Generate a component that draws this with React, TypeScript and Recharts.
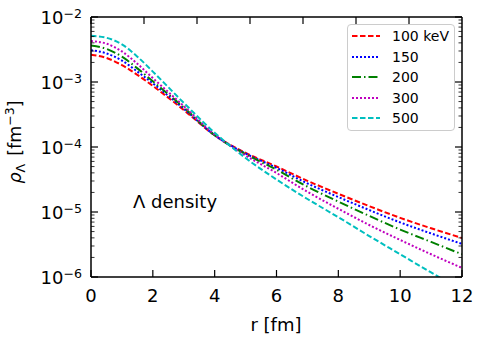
import { LineChart, Line, XAxis, YAxis, Legend } from "recharts";

// radius r [fm]
const R = [0, 0.5, 1, 1.5, 2, 3, 4, 5, 6, 7, 8, 9, 10, 11, 12];
// log10 of Lambda density [fm^-3] for each temperature
const logRho100 = [-2.58, -2.63, -2.74, -2.89, -3.06, -3.43, -3.82, -4.09, -4.30, -4.52, -4.72, -4.91, -5.09, -5.25, -5.40];
const logRho150 = [-2.51, -2.56, -2.67, -2.84, -3.02, -3.41, -3.82, -4.10, -4.32, -4.56, -4.77, -4.97, -5.16, -5.33, -5.49];
const logRho200 = [-2.44, -2.49, -2.61, -2.79, -2.99, -3.39, -3.82, -4.11, -4.35, -4.61, -4.84, -5.06, -5.27, -5.46, -5.65];
const logRho300 = [-2.37, -2.41, -2.53, -2.72, -2.94, -3.37, -3.81, -4.13, -4.40, -4.69, -4.95, -5.20, -5.43, -5.65, -5.86];
const logRho500 = [-2.29, -2.32, -2.42, -2.61, -2.84, -3.32, -3.78, -4.17, -4.50, -4.80, -5.08, -5.37, -5.65, -5.93, -6.20];

const xTicks = [0, 2, 4, 6, 8, 10, 12];
const yDecades = [-6, -5, -4, -3, -2];

const series = [
  { key: "t100", name: "100 keV", vals: logRho100, color: "#ff0000", dash: "5.5 2.5" },
  { key: "t150", name: "150", vals: logRho150, color: "#0000ff", dash: "2 2" },
  { key: "t200", name: "200", vals: logRho200, color: "#008000", dash: "9 3 1.5 3" },
  { key: "t300", name: "300", vals: logRho300, color: "#bf00bf", dash: "2 2" },
  { key: "t500", name: "500", vals: logRho500, color: "#00bfbf", dash: "5.5 2.5" },
];

const data = R.map((r, i) => {
  const row: Record<string, number> = { r };
  series.forEach((s) => (row[s.key] = Math.pow(10, s.vals[i])));
  return row;
});

const yMajor = yDecades.map((d) => Math.pow(10, d));
const yTicks: number[] = [];
yDecades.forEach((d, i) => {
  yTicks.push(Math.pow(10, d));
  if (i < yDecades.length - 1) for (let m = 2; m <= 9; m++) yTicks.push(m * Math.pow(10, d));
});
const isMajor = (v: number) => yMajor.some((m) => Math.abs(m - v) / m < 1e-6);

const FONT = "DejaVu Sans, sans-serif";
const axisLine = { stroke: "#000", strokeWidth: 1.5 };

const BottomTick = (p: any) => (
  <g>
    <line x1={p.x} x2={p.x} y1={p.y} y2={p.y - 7} stroke="#000" strokeWidth={1.2} />
    <text x={p.x} y={p.y + 24.5} textAnchor="middle" fontSize={18} fontFamily={FONT} fill="#000">
      {p.payload.value}
    </text>
  </g>
);

const TopTick = (p: any) => (
  <line x1={p.x} x2={p.x} y1={p.y} y2={p.y + 7} stroke="#000" strokeWidth={1.2} />
);

const LeftTick = (p: any) => {
  const v = p.payload.value;
  const major = isMajor(v);
  return (
    <g>
      <line x1={p.x} x2={p.x + (major ? 7 : 3.5)} y1={p.y} y2={p.y} stroke="#000" strokeWidth={major ? 1.2 : 0.8} />
      {major && (
        <text x={p.x - 9} y={p.y + 6.5} textAnchor="end" fontSize={18} fontFamily={FONT} fill="#000">
          <tspan>10</tspan>
          <tspan fontSize={12.6} dy={-6}>{"\u2212" + Math.round(-Math.log10(v))}</tspan>
        </text>
      )}
    </g>
  );
};

const RightTick = (p: any) => {
  const major = isMajor(p.payload.value);
  return (
    <line x1={p.x} x2={p.x - (major ? 7 : 3.5)} y1={p.y} y2={p.y} stroke="#000" strokeWidth={major ? 1.2 : 0.8} />
  );
};

const renderLegend = () => (
  <div
    style={{
      border: "1px solid #cccccc",
      borderRadius: 4,
      background: "#fff",
      boxSizing: "border-box",
      width: 108,
      height: 107,
      paddingTop: 1,
      fontFamily: FONT,
      fontSize: 14,
    }}
  >
    {series.map((s) => (
      <div key={s.key} style={{ display: "flex", alignItems: "center", height: 20.5 }}>
        <svg width={28} height={4} style={{ marginLeft: 4 }}>
          <line x1={0} x2={28} y1={2} y2={2} stroke={s.color} strokeWidth={2} strokeDasharray={s.dash} />
        </svg>
        <span style={{ marginLeft: 12 }}>{s.name}</span>
      </div>
    ))}
  </div>
);

export default function App() {
  return (
    <div style={{ position: "absolute", left: 0, top: 0, width: 485, height: 342, background: "#fff" }}>
      <LineChart width={485} height={342} data={data} margin={{ top: 16, right: 22, bottom: 64, left: 90 }}>
        <XAxis
          xAxisId="b"
          dataKey="r"
          type="number"
          domain={[0, 12]}
          allowDataOverflow
          ticks={xTicks}
          interval={0}
          height={1}
          tickSize={0}
          tickMargin={0}
          tickLine={false}
          axisLine={axisLine}
          tick={BottomTick}
        />
        <XAxis
          xAxisId="t"
          orientation="top"
          type="number"
          domain={[0, 12]}
          allowDataOverflow
          ticks={xTicks}
          interval={0}
          height={1}
          tickSize={0}
          tickMargin={0}
          tickLine={false}
          axisLine={axisLine}
          tick={TopTick}
        />
        <YAxis
          yAxisId="l"
          scale="log"
          type="number"
          domain={[1e-6, 1e-2]}
          allowDataOverflow
          ticks={yTicks}
          interval={0}
          width={1}
          tickSize={0}
          tickMargin={0}
          tickLine={false}
          axisLine={axisLine}
          tick={LeftTick}
        />
        <YAxis
          yAxisId="r"
          orientation="right"
          scale="log"
          type="number"
          domain={[1e-6, 1e-2]}
          allowDataOverflow
          ticks={yTicks}
          interval={0}
          width={1}
          tickSize={0}
          tickMargin={0}
          tickLine={false}
          axisLine={axisLine}
          tick={RightTick}
        />
        {series.map((s) => (
          <Line
            key={s.key}
            xAxisId="b"
            yAxisId="l"
            dataKey={s.key}
            name={s.name}
            type="monotone"
            stroke={s.color}
            strokeWidth={2}
            strokeDasharray={s.dash}
            dot={false}
            isAnimationActive={false}
          />
        ))}
        <Legend
          layout="vertical"
          align="center"
          verticalAlign="middle"
          content={renderLegend}
          wrapperStyle={{ position: "absolute", left: 347, top: 24, width: 108, height: 107 }}
        />
        <text x={133} y={208} fontSize={18} fontFamily={FONT} fill="#000">
          {"\u039B density"}
        </text>
        <text x={276} y={331} textAnchor="middle" fontSize={18} fontFamily={FONT} fill="#000">
          r [fm]
        </text>
        <text
          x={20.5}
          y={142}
          transform="rotate(-90, 20.5, 142)"
          textAnchor="middle"
          fontSize={17.5}
          fontFamily={FONT}
          fill="#000"
        >
          <tspan fontStyle="italic">{"\u03C1"}</tspan>
          <tspan fontSize={12.5} dy={4}>{"\u039B"}</tspan>
          <tspan dy={-4} dx={8}>[fm</tspan>
          <tspan fontSize={12.5} dy={-7}>{"\u22123"}</tspan>
          <tspan dy={7}>]</tspan>
        </text>
      </LineChart>
    </div>
  );
}
